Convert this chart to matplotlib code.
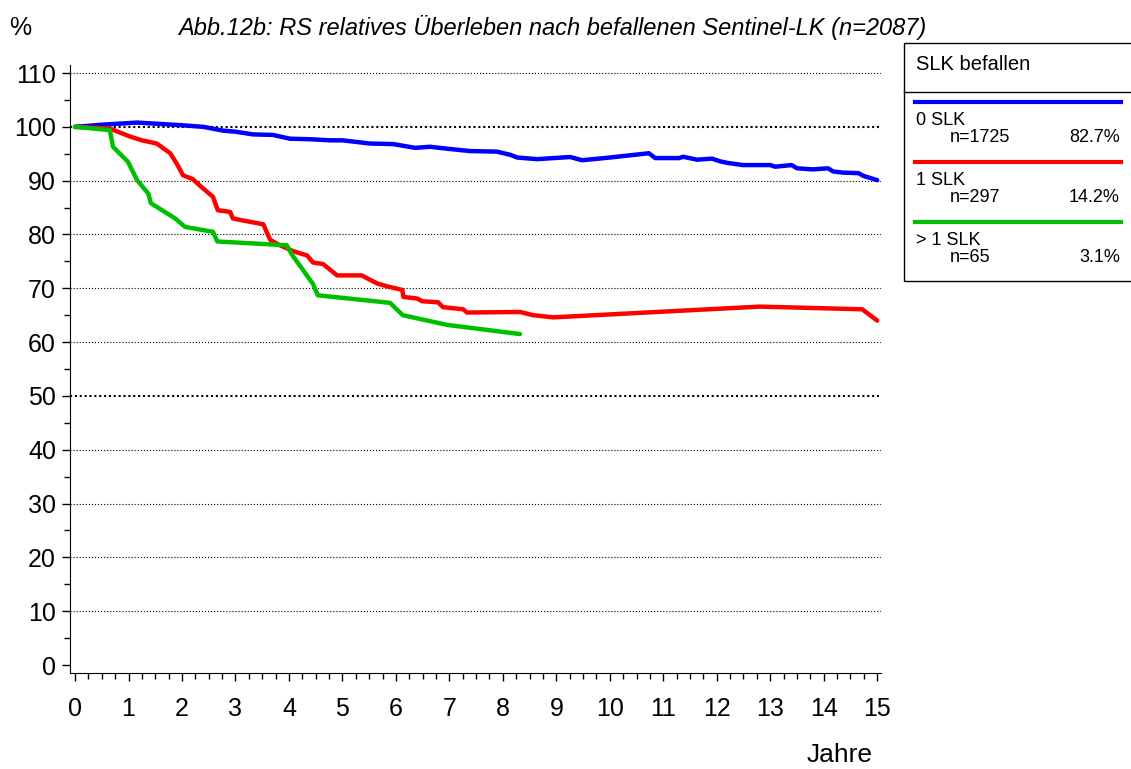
import numpy as np
import matplotlib
matplotlib.use('Agg')
import matplotlib.pyplot as plt
from matplotlib.lines import Line2D
from matplotlib.patches import Rectangle

plt.rcParams['font.family'] = ['Liberation Sans', 'DejaVu Sans']
plt.rcParams['lines.scale_dashes'] = False

# data
x_0slk = [0, 0.5, 1.0, 1.16, 1.5, 2.0, 2.4, 2.77, 3.0, 3.33, 3.7, 4.02, 4.4, 4.77, 5.0, 5.52,
          5.95, 6.36, 6.64, 7.0, 7.39, 7.89, 8.14, 8.27, 8.64, 9.26, 9.48, 10.0, 10.73, 10.85,
          11.3, 11.37, 11.63, 11.91, 12.06, 12.2, 12.49, 13.0, 13.09, 13.4, 13.5, 13.8, 14.08,
          14.18, 14.36, 14.65, 14.74, 15.0]
y_0slk = [100, 100.4, 100.7, 100.8, 100.6, 100.3, 100.0, 99.3, 99.1, 98.6, 98.5, 97.8, 97.7,
          97.5, 97.5, 96.9, 96.8, 96.1, 96.3, 95.9, 95.5, 95.4, 94.8, 94.3, 94.0, 94.4, 93.8,
          94.3, 95.1, 94.2, 94.2, 94.45, 93.9, 94.1, 93.6, 93.3, 92.9, 92.9, 92.6, 92.9, 92.3,
          92.1, 92.3, 91.7, 91.5, 91.4, 90.9, 90.1]

x_1slk = [0, 0.65, 1.03, 1.25, 1.53, 1.78, 1.9, 2.02, 2.2, 2.39, 2.58, 2.67, 2.9, 2.95, 3.14,
          3.52, 3.65, 3.83, 4.08, 4.34, 4.45, 4.64, 4.9, 5.36, 5.65, 5.86, 6.12, 6.14, 6.4,
          6.49, 6.79, 6.88, 7.26, 7.33, 8.32, 8.57, 8.94, 12.81, 14.72, 15.0]
y_1slk = [100, 99.7, 98.2, 97.5, 96.9, 95.1, 93.2, 91.0, 90.3, 88.6, 87.0, 84.5, 84.2, 83.0,
          82.6, 81.9, 79.0, 78.0, 76.9, 76.1, 74.8, 74.5, 72.4, 72.4, 70.9, 70.3, 69.7, 68.4,
          68.1, 67.6, 67.4, 66.5, 66.1, 65.5, 65.6, 65.0, 64.6, 66.6, 66.1, 64.0]

x_gt1slk = [0, 0.65, 0.71, 0.99, 1.16, 1.37, 1.42, 1.87, 2.06, 2.58, 2.66, 3.96, 4.06, 4.45,
            4.54, 5.89, 6.13, 6.96, 8.32]
y_gt1slk = [100, 99.4, 96.3, 93.5, 90.1, 87.6, 85.8, 83.0, 81.4, 80.5, 78.7, 78.0, 76.2, 70.8,
            68.7, 67.3, 65.0, 63.2, 61.5]

group_labels = ['0 SLK', '1 SLK', '> 1 SLK']
group_n = [1725, 297, 65]
group_pct = ['82.7%', '14.2%', '3.1%']
colors = ['#0000FF', '#FF0000', '#00BF00']

fig = plt.figure(figsize=(11.31, 7.69), dpi=100)
ax = fig.add_axes([0.0619, 0.1248, 0.717, 0.7907])

# grid lines
for g in range(10, 111, 10):
    if g in (50, 100):
        ax.axhline(g, color='black', lw=1.5, dashes=(1.5, 2.0), zorder=1)
    else:
        ax.axhline(g, color='black', lw=0.8, dashes=(0.8, 1.4), zorder=1)

series = [(x_0slk, y_0slk), (x_1slk, y_1slk), (x_gt1slk, y_gt1slk)]
for (xs, ys), c in zip(series, colors):
    ax.plot(xs, ys, color=c, lw=3.2, solid_joinstyle='round', solid_capstyle='round', zorder=3)

ax.set_xlim(-0.094, 15.07)
ax.set_ylim(-1.49, 111.5)
ax.spines['top'].set_visible(False)
ax.spines['right'].set_visible(False)
ax.set_xticks(range(0, 16))
ax.set_xticks(np.arange(0, 15.01, 0.25), minor=True)
ax.set_yticks(range(0, 111, 10))
ax.set_yticks(range(5, 111, 10), minor=True)
ax.tick_params(axis='both', which='major', labelsize=18, length=6, width=1)
ax.tick_params(axis='both', which='minor', length=4, width=1)
ax.tick_params(axis='x', which='major', pad=11)
ax.tick_params(axis='y', which='major', pad=4)

fig.text(20 / 1131, 1 - 28 / 769, '%', fontsize=18, ha='center', va='center')
fig.text(840 / 1131, 1 - 755 / 769, 'Jahre', fontsize=19, ha='center', va='center')
fig.text(552 / 1131, 1 - 28 / 769,
         'Abb.12b: RS relatives Überleben nach befallenen Sentinel-LK (n=2087)',
         fontsize=17, style='italic', ha='center', va='center')

# legend box
W, H = 1131.0, 769.0
fig.add_artist(Rectangle((904 / W, 1 - 281 / H), 0.25, (281 - 43) / H,
                         transform=fig.transFigure, fill=False, edgecolor='black', lw=1))
fig.add_artist(Line2D([904 / W, 1.0], [1 - 92 / H, 1 - 92 / H], transform=fig.transFigure,
                      color='black', lw=1))
fig.text(916 / W, 1 - 65 / H, 'SLK befallen', fontsize=14.5, ha='left', va='center')
for i in range(3):
    yl = 102 + 60 * i
    fig.add_artist(Line2D([915 / W, 1121 / W], [1 - yl / H, 1 - yl / H],
                          transform=fig.transFigure, color=colors[i], lw=3))
    fig.text(916 / W, 1 - (yl + 23) / H, group_labels[i], fontsize=13, ha='left', va='baseline')
    fig.text(950 / W, 1 - (yl + 40) / H, 'n=' + str(group_n[i]), fontsize=13, ha='left', va='baseline')
    fig.text(1120 / W, 1 - (yl + 40) / H, group_pct[i], fontsize=13, ha='right', va='baseline')

fig.savefig('out.png', dpi=100)
